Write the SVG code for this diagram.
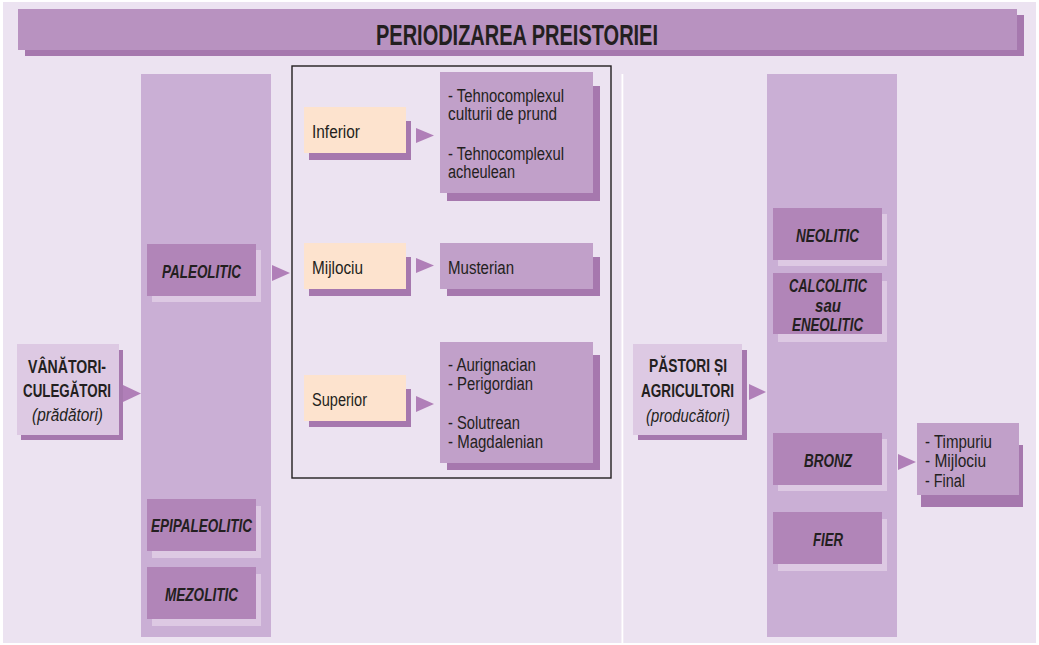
<svg xmlns="http://www.w3.org/2000/svg" width="1039" height="645" viewBox="0 0 1039 645">
<style>
text{font-family:"Liberation Sans",Arial,sans-serif;fill:#231F20;}
.t{font-size:18px;}
.b{font-size:18px;font-weight:bold;}
.bi{font-size:19px;font-weight:bold;font-style:italic;}
.it{font-size:18px;font-style:italic;}
.col{fill:#CAAFD5;}
.per{fill:#B185B8;}
.pers{fill:#DDC9E3;}
.cnt{fill:#C1A0C9;}
.dsh{fill:#A678AE;}
.peach{fill:#FDE3CE;}
.light{fill:#DDC9E3;}
.arrow{fill:#B07FB8;}
</style>
<rect x="0" y="0" width="1039" height="645" fill="#FFFFFF"/>
<rect x="3" y="2" width="1033" height="641" fill="#ECE3F1"/>
<rect x="621.5" y="74" width="1.8" height="570" fill="#FFFFFF"/>

<g id="title">
<rect x="25" y="15" width="999" height="41" class="dsh"/>
<rect x="18" y="9" width="999" height="41" fill="#B892C0"/>
<text x="517" y="45" font-size="29" font-weight="bold" text-anchor="middle" textLength="282" lengthAdjust="spacingAndGlyphs">PERIODIZAREA PREISTORIEI</text>
</g>

<g id="col-left"><rect x="141" y="74" width="130" height="563" class="col"/></g>
<g id="col-right"><rect x="767" y="74" width="130" height="563" class="col"/></g>

<g id="vanatori">
<rect x="21" y="350" width="102" height="90" class="dsh"/>
<rect x="17" y="344" width="102" height="91" class="light"/>
<text x="67" y="373" class="b" text-anchor="middle" textLength="78" lengthAdjust="spacingAndGlyphs">VÂNĂTORI-</text>
<text x="67" y="397" class="b" text-anchor="middle" textLength="88" lengthAdjust="spacingAndGlyphs">CULEGĂTORI</text>
<text x="67.5" y="421" class="it" text-anchor="middle" textLength="71" lengthAdjust="spacingAndGlyphs">(prădători)</text>
</g>

<g id="paleolitic">
<rect x="152" y="250" width="109" height="52" class="pers"/>
<rect x="147" y="244" width="109" height="52" class="per"/>
<text x="201.5" y="277.5" class="bi" text-anchor="middle" textLength="79" lengthAdjust="spacingAndGlyphs">PALEOLITIC</text>
</g>
<g id="epipaleolitic">
<rect x="152" y="506" width="109" height="52" class="pers"/>
<rect x="147" y="499" width="109" height="52" class="per"/>
<text x="201.5" y="532" class="bi" text-anchor="middle" textLength="101" lengthAdjust="spacingAndGlyphs">EPIPALEOLITIC</text>
</g>
<g id="mezolitic">
<rect x="152" y="574" width="109" height="52" class="pers"/>
<rect x="147" y="567" width="109" height="52" class="per"/>
<text x="201.5" y="601" class="bi" text-anchor="middle" textLength="73" lengthAdjust="spacingAndGlyphs">MEZOLITIC</text>
</g>

<g id="paleolitic-frame"><rect x="292" y="66" width="319" height="412" fill="none" stroke="#231F20" stroke-width="1.4"/></g>

<g id="inferior">
<rect x="309" y="121" width="102" height="39" class="dsh"/>
<rect x="304" y="107" width="102" height="46" class="peach"/>
<text x="312" y="138" class="t" textLength="48" lengthAdjust="spacingAndGlyphs">Inferior</text>
</g>
<g id="mijlociu">
<rect x="309" y="257" width="102" height="39" class="dsh"/>
<rect x="304" y="243" width="102" height="46" class="peach"/>
<text x="312" y="274" class="t" textLength="51" lengthAdjust="spacingAndGlyphs">Mijlociu</text>
</g>
<g id="superior">
<rect x="309" y="389" width="102" height="38" class="dsh"/>
<rect x="304" y="375" width="102" height="46" class="peach"/>
<text x="312" y="406" class="t" textLength="55" lengthAdjust="spacingAndGlyphs">Superior</text>
</g>

<g id="inferior-cultures">
<rect x="447" y="86" width="153" height="115" class="dsh"/>
<rect x="440" y="72" width="153" height="121" class="cnt"/>
<text x="448" y="102" class="t" textLength="116" lengthAdjust="spacingAndGlyphs">- Tehnocomplexul</text>
<text x="448" y="120" class="t" textLength="109" lengthAdjust="spacingAndGlyphs">culturii de prund</text>
<text x="448" y="160" class="t" textLength="116" lengthAdjust="spacingAndGlyphs">- Tehnocomplexul</text>
<text x="448" y="178" class="t" textLength="67" lengthAdjust="spacingAndGlyphs">acheulean</text>
</g>
<g id="musterian">
<rect x="447" y="257" width="153" height="39" class="dsh"/>
<rect x="440" y="243" width="153" height="46" class="cnt"/>
<text x="448" y="274" class="t" textLength="66" lengthAdjust="spacingAndGlyphs">Musterian</text>
</g>
<g id="superior-cultures">
<rect x="447" y="355" width="153" height="115" class="dsh"/>
<rect x="440" y="342" width="153" height="121" class="cnt"/>
<text x="448" y="371" class="t" textLength="88" lengthAdjust="spacingAndGlyphs">- Aurignacian</text>
<text x="448" y="390" class="t" textLength="85" lengthAdjust="spacingAndGlyphs">- Perigordian</text>
<text x="448" y="429" class="t" textLength="72" lengthAdjust="spacingAndGlyphs">- Solutrean</text>
<text x="448" y="448" class="t" textLength="95" lengthAdjust="spacingAndGlyphs">- Magdalenian</text>
</g>

<g id="pastori">
<rect x="638" y="350" width="109" height="90" class="dsh"/>
<rect x="633" y="344" width="109" height="91" class="light"/>
<text x="688" y="372" class="b" text-anchor="middle" textLength="78" lengthAdjust="spacingAndGlyphs">PĂSTORI ȘI</text>
<text x="687.5" y="397" class="b" text-anchor="middle" textLength="93" lengthAdjust="spacingAndGlyphs">AGRICULTORI</text>
<text x="688" y="422" class="it" text-anchor="middle" textLength="84" lengthAdjust="spacingAndGlyphs">(producători)</text>
</g>

<g id="neolitic">
<rect x="778" y="214" width="109" height="52" class="pers"/>
<rect x="773" y="208" width="109" height="52" class="per"/>
<text x="827.5" y="242" class="bi" text-anchor="middle" textLength="63" lengthAdjust="spacingAndGlyphs">NEOLITIC</text>
</g>
<g id="calcolitic">
<rect x="778" y="281" width="109" height="61" class="pers"/>
<rect x="773" y="273" width="109" height="61" class="per"/>
<text x="828" y="292" class="bi" text-anchor="middle" textLength="78" lengthAdjust="spacingAndGlyphs">CALCOLITIC</text>
<text x="828" y="312" class="bi" text-anchor="middle" textLength="26" lengthAdjust="spacingAndGlyphs">sau</text>
<text x="827.5" y="331" class="bi" text-anchor="middle" textLength="71" lengthAdjust="spacingAndGlyphs">ENEOLITIC</text>
</g>
<g id="bronz">
<rect x="778" y="439" width="109" height="52" class="pers"/>
<rect x="773" y="433" width="109" height="52" class="per"/>
<text x="828" y="467" class="bi" text-anchor="middle" textLength="48" lengthAdjust="spacingAndGlyphs">BRONZ</text>
</g>
<g id="fier">
<rect x="778" y="519" width="109" height="52" class="pers"/>
<rect x="773" y="512" width="109" height="52" class="per"/>
<text x="828" y="546" class="bi" text-anchor="middle" textLength="30" lengthAdjust="spacingAndGlyphs">FIER</text>
</g>
<g id="bronz-phases">
<rect x="921" y="445" width="102" height="62" class="dsh"/>
<rect x="917" y="423" width="102" height="72" class="cnt"/>
<text x="925" y="448" class="t" textLength="67" lengthAdjust="spacingAndGlyphs">- Timpuriu</text>
<text x="925" y="467" class="t" textLength="61" lengthAdjust="spacingAndGlyphs">- Mijlociu</text>
<text x="925" y="487" class="t" textLength="40" lengthAdjust="spacingAndGlyphs">- Final</text>
</g>

<g id="connectors">
<polygon class="arrow" points="123,385 141,393.5 123,402"/>
<polygon class="arrow" points="272,265 290,273 272,281"/>
<polygon class="arrow" points="416,128 434,135.5 416,143"/>
<polygon class="arrow" points="416,258 434,265.5 416,273"/>
<polygon class="arrow" points="416,396 434,404 416,412"/>
<polygon class="arrow" points="749,384 766,392 749,400"/>
<polygon class="arrow" points="898,454 916,462 898,470"/>
</g>
</svg>
